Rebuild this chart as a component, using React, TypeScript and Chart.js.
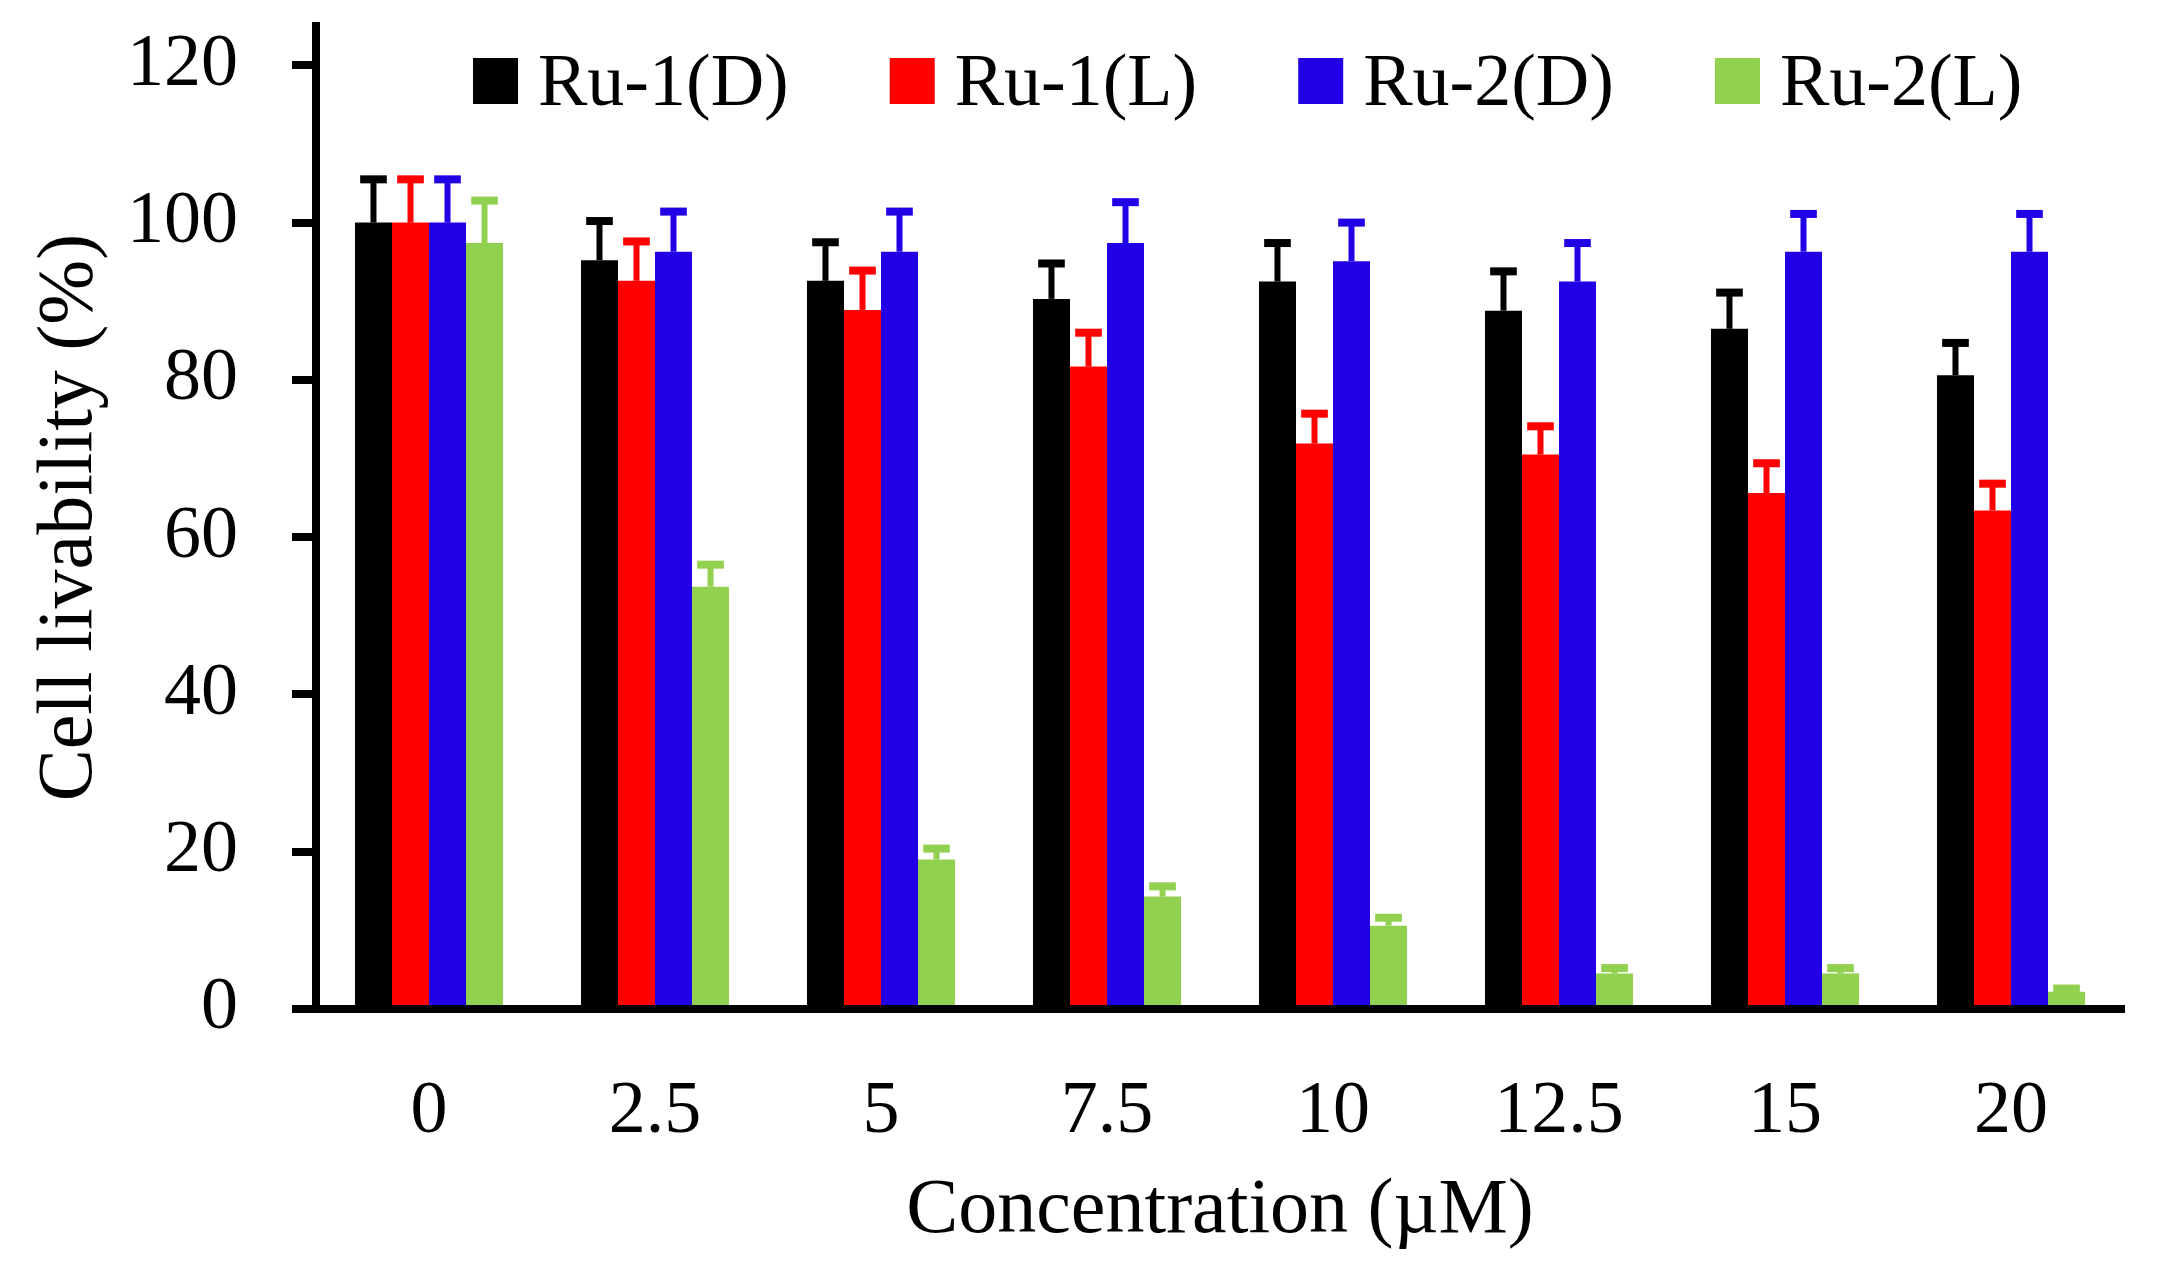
import React, { useEffect, useRef } from 'react';
import Chart from 'chart.js/auto';

// concentrations (µM) on the x axis
const categories = ['0', '2.5', '5', '7.5', '10', '12.5', '15', '20'];

// cell livability (%) per series, with the upper error bar size
const ru1D = [100, 95.2, 92.6, 90.3, 92.5, 88.8, 86.5, 80.6];
const ru1DErr = [5.5, 5.0, 4.9, 4.5, 4.9, 5.0, 4.6, 4.1];
const ru1L = [100, 92.6, 88.9, 81.7, 71.9, 70.5, 65.6, 63.4];
const ru1LErr = [5.5, 5.0, 5.0, 4.3, 3.8, 3.6, 3.8, 3.4];
const ru2D = [100, 96.3, 96.3, 97.4, 95.1, 92.5, 96.3, 96.3];
const ru2DErr = [5.5, 5.1, 5.1, 5.2, 4.9, 4.9, 4.8, 4.8];
const ru2L = [97.4, 53.7, 19.0, 14.3, 10.6, 4.5, 4.5, 2.2];
const ru2LErr = [5.4, 2.8, 1.4, 1.3, 1.0, 0.7, 0.7, 0.4];

const seriesLabels = ['Ru-1(D)', 'Ru-1(L)', 'Ru-2(D)', 'Ru-2(L)'];
const seriesColors = ['#000000', '#FF0000', '#2200E6', '#92D050'];

const yTicks = [0, 20, 40, 60, 80, 100, 120];

const FONT = '"Liberation Serif", "Times New Roman", serif';

// draws the upper half of each error bar (stem + cap)
const errorBarPlugin = {
  id: 'errorBars',
  afterDatasetsDraw(chart: any) {
    const ctx = chart.ctx;
    const yScale = chart.scales.y;
    chart.data.datasets.forEach((ds: any, i: number) => {
      const meta = chart.getDatasetMeta(i);
      meta.data.forEach((bar: any, j: number) => {
        const v = ds.data[j];
        const yTop = yScale.getPixelForValue(v + ds.errors[j]);
        const yBar = yScale.getPixelForValue(v);
        const capW = bar.width * 0.72;
        ctx.save();
        ctx.fillStyle = ds.backgroundColor;
        ctx.fillRect(bar.x - 3, yTop, 6, yBar - yTop);
        ctx.fillRect(bar.x - capW / 2, yTop - 4, capW, 8);
        ctx.restore();
      });
    });
  },
};

// legend drawn inside the plot area, above the bars
const insideLegendPlugin = {
  id: 'insideLegend',
  afterDraw(chart: any) {
    const ctx = chart.ctx;
    ctx.save();
    ctx.font = `74px ${FONT}`;
    ctx.textBaseline = 'alphabetic';
    let x = 473;
    chart.data.datasets.forEach((ds: any) => {
      ctx.fillStyle = ds.backgroundColor;
      ctx.fillRect(x, 58, 45, 46);
      ctx.fillStyle = '#000';
      ctx.fillText(ds.label, x + 65, 105);
      x += 65 + ctx.measureText(ds.label).width + 101;
    });
    ctx.restore();
  },
};

function LivabilityChart() {
  const chartRef = useRef<HTMLCanvasElement>(null);

  useEffect(() => {
    if (!chartRef.current) return;
    const values = [ru1D, ru1L, ru2D, ru2L];
    const errors = [ru1DErr, ru1LErr, ru2DErr, ru2LErr];

    const myChart = new Chart(chartRef.current, {
      type: 'bar',
      data: {
        labels: categories,
        datasets: seriesLabels.map((label, i) => ({
          label,
          data: values[i],
          errors: errors[i],
          backgroundColor: seriesColors[i],
          borderWidth: 0,
          barPercentage: 1,
          categoryPercentage: 0.655,
        })) as any,
      },
      options: {
        animation: false,
        responsive: true,
        maintainAspectRatio: false,
        layout: { padding: { left: 20, top: 26, right: 35, bottom: 0 } },
        plugins: {
          legend: { display: false },
          tooltip: { enabled: false },
        },
        scales: {
          x: {
            grid: { display: true, drawOnChartArea: false, drawTicks: false, tickLength: 0 },
            border: { display: true, color: '#000', width: 8 },
            ticks: {
              color: '#000',
              font: { family: FONT, size: 74, lineHeight: 1 },
              padding: 67,
              maxRotation: 0,
              autoSkip: false,
            },
            title: {
              display: true,
              text: 'Concentration (µM)',
              color: '#000',
              font: { family: FONT, size: 78, lineHeight: 1 },
              padding: { top: 0, bottom: 31 },
            },
            afterFit: (s: any) => {
              s.height = 273;
              s.paddingLeft = 0;
              s.paddingRight = 0;
              s.paddingTop = 0;
              s.paddingBottom = 0;
            },
          },
          y: {
            min: 0,
            max: 125,
            afterBuildTicks: (s: any) => {
              s.ticks = yTicks.map(v => ({ value: v }));
            },
            grid: {
              display: true,
              drawOnChartArea: false,
              drawTicks: true,
              tickLength: 24,
              lineWidth: 8,
              color: '#000',
            },
            border: { display: true, color: '#000', width: 8 },
            ticks: {
              color: '#000',
              font: { family: FONT, size: 74, lineHeight: 1 },
              padding: 54,
            },
            title: {
              display: true,
              text: 'Cell livability (%)',
              color: '#000',
              font: { family: FONT, size: 78, lineHeight: 1 },
              padding: { top: 12, bottom: 0 },
            },
            afterFit: (s: any) => {
              s.width = 296;
              s.paddingTop = 0;
              s.paddingBottom = 0;
            },
          },
        },
      },
      plugins: [errorBarPlugin, insideLegendPlugin],
    });

    return () => {
      myChart.destroy();
    };
  }, []);

  return (
    <div style={{ position: 'absolute', left: 0, top: 0, width: 2159, height: 1282, background: '#fff' }}>
      <canvas ref={chartRef}></canvas>
    </div>
  );
}

export default function App() {
  return <LivabilityChart />;
}
